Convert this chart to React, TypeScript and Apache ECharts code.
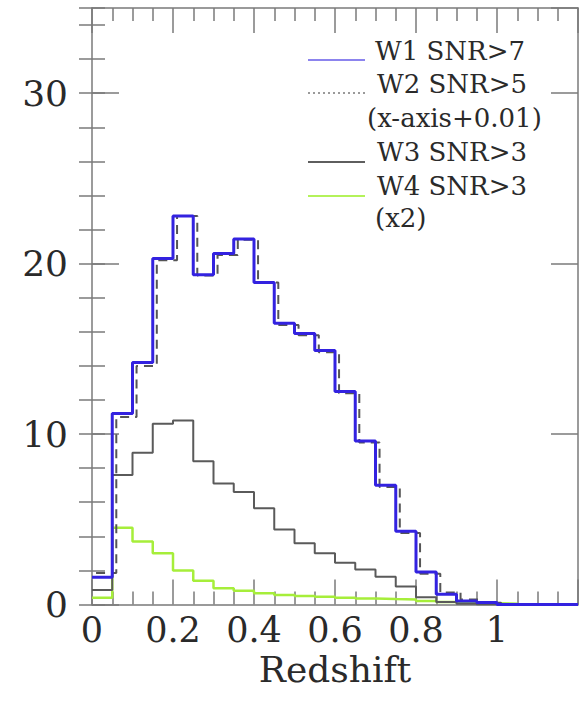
import React, { useEffect, useRef } from "react";
import * as echarts from "echarts";

// Bin left edges (width 0.05)
const binStarts = [0, 0.05, 0.1, 0.15, 0.2, 0.25, 0.3, 0.35, 0.4, 0.45, 0.5, 0.55, 0.6, 0.65, 0.7, 0.75, 0.8, 0.85, 0.9, 0.95, 1.0, 1.05, 1.1, 1.15];
const binWidth = 0.05;
const w2Shift = 0.01;

const w1Values = [1.6, 11.2, 14.2, 20.3, 22.8, 19.35, 20.6, 21.45, 18.9, 16.5, 15.9, 14.9, 12.5, 9.6, 7.0, 4.3, 1.9, 0.6, 0.2, 0.12, 0, 0, 0, 0];
const w2Values = [1.85, 11.0, 14.0, 20.2, 22.8, 19.3, 20.5, 21.4, 18.9, 16.4, 15.8, 14.8, 12.4, 9.5, 6.9, 4.2, 1.8, 0.7, 0.3, 0.1, 0, 0, 0, 0];
const w3Values = [0.85, 7.6, 8.9, 10.6, 10.8, 8.4, 7.1, 6.6, 5.65, 4.4, 3.6, 3.0, 2.45, 2.05, 1.63, 1.05, 0.42, 0.15, 0.05, 0, 0, 0, 0, 0];
const w4Values = [0.4, 4.5, 3.7, 3.0, 2.0, 1.4, 0.95, 0.8, 0.66, 0.56, 0.5, 0.45, 0.4, 0.35, 0.32, 0.3, 0.2, 0.15, 0.1, 0.08, 0.05, 0, 0, 0];

const legendLines = ["W1 SNR>7", "W2 SNR>5", "(x-axis+0.01)", "W3 SNR>3", "W4 SNR>3", "(x2)"];
const xTickInterval = 0.2;
const yTickInterval = 10;
const yMinorInterval = 2;

function stepData(values: number[], shift: number) {
  const pts: number[][] = binStarts.map((x, i) => [+(x + shift).toFixed(3), values[i]]);
  const last = binStarts[binStarts.length - 1] + binWidth + shift;
  pts.push([+last.toFixed(3), values[values.length - 1]]);
  return pts;
}

const FRAME = "#7a7a7a";
const FONT = "DejaVu Serif";

export default function App() {
  const ref = useRef<HTMLDivElement>(null);
  useEffect(() => {
    if (!ref.current) return;
    const chart = echarts.init(ref.current, undefined, { renderer: "svg" });
    const gridLeft = 92, gridTop = 8, gridW = 486, gridH = 596.5;

    const xBase = {
      type: "value" as const,
      min: 0,
      max: 1.2,
      interval: xTickInterval,
      axisLine: { show: true, onZero: false, lineStyle: { color: FRAME, width: 1.5 } },
      axisTick: { show: true, inside: true, length: 25, lineStyle: { color: FRAME, width: 1.5 } },
      minorTick: { show: true, splitNumber: 4, length: 13, lineStyle: { color: FRAME, width: 1.5 } },
      splitLine: { show: false },
      minorSplitLine: { show: false },
    };
    const yMajor = {
      type: "value" as const,
      min: 0,
      max: 35,
      interval: yTickInterval,
      axisLine: { show: true, onZero: false, lineStyle: { color: FRAME, width: 1.5 } },
      axisTick: { show: true, inside: true, length: 27, lineStyle: { color: FRAME, width: 1.5 } },
      splitLine: { show: false },
    };
    const yMinor = {
      type: "value" as const,
      min: 0,
      max: 35,
      interval: yMinorInterval,
      axisLine: { show: false },
      axisTick: { show: true, inside: true, length: 13, lineStyle: { color: FRAME, width: 1.5 } },
      axisLabel: { show: false },
      splitLine: { show: false },
    };

    const legendY = [54, 87, 121, 155, 189, 221];
    const textX = [375, 377, 367, 377, 377, 375];

    const graphics: any[] = [];
    legendLines.forEach((t, i) => {
      graphics.push({
        type: "text",
        left: textX[i],
        top: legendY[i] - 16,
        style: { text: t, font: `26px "${FONT}"`, fill: "#2a2a2a" },
        z: 100,
      });
    });
    const samples = [
      { y: 60, color: "#8c84ee", dash: null },
      { y: 93, color: "#9a9a9a", dash: [2, 3] },
      { y: 162, color: "#5e5e5e", dash: null },
      { y: 196, color: "#b4f25a", dash: null },
    ];
    samples.forEach((s) => {
      graphics.push({
        type: "line",
        shape: { x1: 308, y1: s.y, x2: 365, y2: s.y },
        style: { stroke: s.color, lineWidth: 2, lineDash: s.dash || undefined },
        z: 100,
      });
    });

    chart.setOption({
      animation: false,
      backgroundColor: "#ffffff",
      grid: { left: gridLeft, top: gridTop, width: gridW, height: gridH, containLabel: false },
      xAxis: [
        {
          ...xBase,
          position: "bottom",
          name: "Redshift",
          nameLocation: "middle",
          nameGap: 50,
          nameMoveOverlap: false,
          nameTextStyle: { fontFamily: FONT, fontSize: 36, lineHeight: 30, color: "#2a2a2a" },
          axisLabel: {
            show: true,
            margin: 10,
            fontFamily: FONT,
            fontSize: 35,
            lineHeight: 30,
            color: "#2a2a2a",
            showMaxLabel: false,
            showMinLabel: true,
            formatter: (v: number) => (Math.abs(v - 1.2) < 1e-6 ? "" : String(+v.toFixed(2))),
          },
        },
        { ...xBase, position: "top", axisLabel: { show: false } },
      ],
      yAxis: [
        {
          ...yMajor,
          position: "left",
          axisLabel: {
            show: true,
            margin: 24,
            fontFamily: FONT,
            fontSize: 36,
            color: "#2a2a2a",
            showMaxLabel: false,
            formatter: (v: number) => (v === 35 ? "" : String(v)),
          },
        },
        { ...yMinor, position: "left" },
        { ...yMajor, position: "right", axisLabel: { show: false } },
        { ...yMinor, position: "right" },
      ],
      series: [
        {
          name: "W4 SNR>3 (x2)",
          type: "line",
          step: "end",
          showSymbol: false,
          data: stepData(w4Values, 0),
          lineStyle: { color: "#a6ee3a", width: 2.5 },
          z: 2,
        },
        {
          name: "W3 SNR>3",
          type: "line",
          step: "end",
          showSymbol: false,
          data: stepData(w3Values, 0),
          lineStyle: { color: "#5a5a5a", width: 2 },
          z: 3,
        },
        {
          name: "W2 SNR>5",
          type: "line",
          step: "end",
          showSymbol: false,
          data: stepData(w2Values, w2Shift),
          lineStyle: { color: "#555555", width: 2, type: [9, 6] },
          z: 4,
        },
        {
          name: "W1 SNR>7",
          type: "line",
          step: "end",
          showSymbol: false,
          data: stepData(w1Values, 0),
          lineStyle: { color: "#3322e0", width: 3 },
          z: 5,
        },
      ],
      graphic: graphics,
    });
    return () => chart.dispose();
  }, []);

  return (
    <div style={{ position: "fixed", left: 0, top: 0, width: 581, height: 707, background: "#fff" }}>
      <div ref={ref} style={{ width: 581, height: 707 }} />
    </div>
  );
}
